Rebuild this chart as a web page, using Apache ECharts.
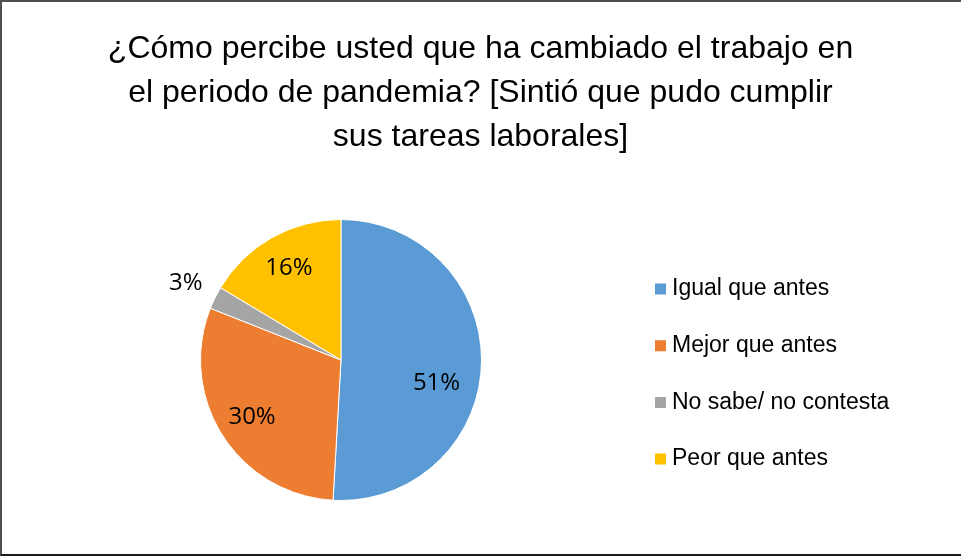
<!DOCTYPE html>
<html>
<head>
<meta charset="utf-8">
<script src="https://cdn.jsdelivr.net/npm/echarts@6/dist/echarts.min.js"></script>
<style>
  html, body { margin: 0; padding: 0; background: #fff; }
  #frame {
    position: absolute; left: 0; top: 0; width: 961px; height: 556px;
    box-sizing: border-box;
    border-top: 2px solid #4f4f4f;
    border-left: 2px solid #4f4f4f;
    border-bottom: 2px solid #1a1a1a;
  }
  #chart { position: absolute; left: 0; top: 0; width: 961px; height: 556px; }
</style>
</head>
<body>
<div id="frame"></div>
<div id="chart"></div>
<script>
// respuestas (orden de la leyenda)
const categories = ['Igual que antes', 'Mejor que antes', 'No sabe/ no contesta', 'Peor que antes']
const values = [50.9, 30.1, 2.6, 16.4]
const colors = ['#5B9BD5', '#ED7D31', '#A5A5A5', '#FFC000']
const outsideLabels = ['No sabe/ no contesta']

const title_text = '¿Cómo percibe usted que ha cambiado el trabajo en\nel periodo de pandemia? [Sintió que pudo cumplir\nsus tareas laborales]'

const center = [341, 360]
const radius = 140.5

const pct = function (p) {
  return Math.round(p.percent) + '%'
}

const labelStyle = {
  position: 'inside',
  formatter: pct,
  color: '#000',
  fontSize: 24,
  fontFamily: 'Open Sans'
}

// el rotulo de la porcion grande queda un poco mas abajo e izquierda en el original
const shiftedLabel = {
  'Igual que antes': {
    formatter: function (p) { return '\n' + pct(p) },
    lineHeight: 40,
    padding: [0, 20, 0, 0]
  }
}

const my_echart = echarts.init(document.getElementById('chart'), null, {renderer: 'canvas'})

my_echart.setOption({
  animation: false,
  title: {
    text: title_text,
    left: 'center',
    top: 27,
    padding: 0,
    textStyle: {
      fontFamily: 'Liberation Sans',
      fontSize: 32,
      fontWeight: 'normal',
      lineHeight: 44,
      color: '#000'
    }
  },
  legend: {
    orient: 'vertical',
    left: 653,
    top: 277,
    padding: 0,
    selectedMode: false,
    icon: 'rect',
    itemWidth: 13,
    itemHeight: 13,
    itemGap: 32.7,
    data: categories,
    textStyle: {
      fontFamily: 'Liberation Sans',
      fontSize: 23,
      lineHeight: 24,
      color: '#000'
    }
  },
  series: [
    {
      // pastel visible
      name: 'respuestas',
      type: 'pie',
      center: center,
      radius: radius,
      startAngle: 90,
      clockwise: true,
      silent: true,
      label: {show: false},
      labelLine: {show: false},
      itemStyle: {borderColor: '#fff', borderWidth: 1},
      data: categories.map((c, i) => ({name: c, value: values[i], itemStyle: {color: colors[i]}}))
    },
    {
      // solo etiquetas dentro de las porciones
      name: 'etiquetas',
      type: 'pie',
      center: center,
      radius: radius * 1.46,
      startAngle: 90,
      silent: true,
      z: 3,
      itemStyle: {color: 'rgba(0,0,0,0)'},
      labelLine: {show: false},
      data: categories.map((c, i) => ({
        name: c, value: values[i],
        label: Object.assign({}, labelStyle, {show: outsideLabels.indexOf(c) < 0}, shiftedLabel[c] || {})
      }))
    },
    {
      // etiqueta fuera del pastel (porcion pequena)
      name: 'etiquetas_fuera',
      type: 'pie',
      center: center,
      radius: radius * 2.42,
      startAngle: 90,
      silent: true,
      z: 3,
      itemStyle: {color: 'rgba(0,0,0,0)'},
      labelLine: {show: false},
      data: categories.map((c, i) => ({
        name: c, value: values[i],
        label: Object.assign({}, labelStyle, {show: outsideLabels.indexOf(c) >= 0})
      }))
    }
  ]
})
</script>
</body>
</html>
